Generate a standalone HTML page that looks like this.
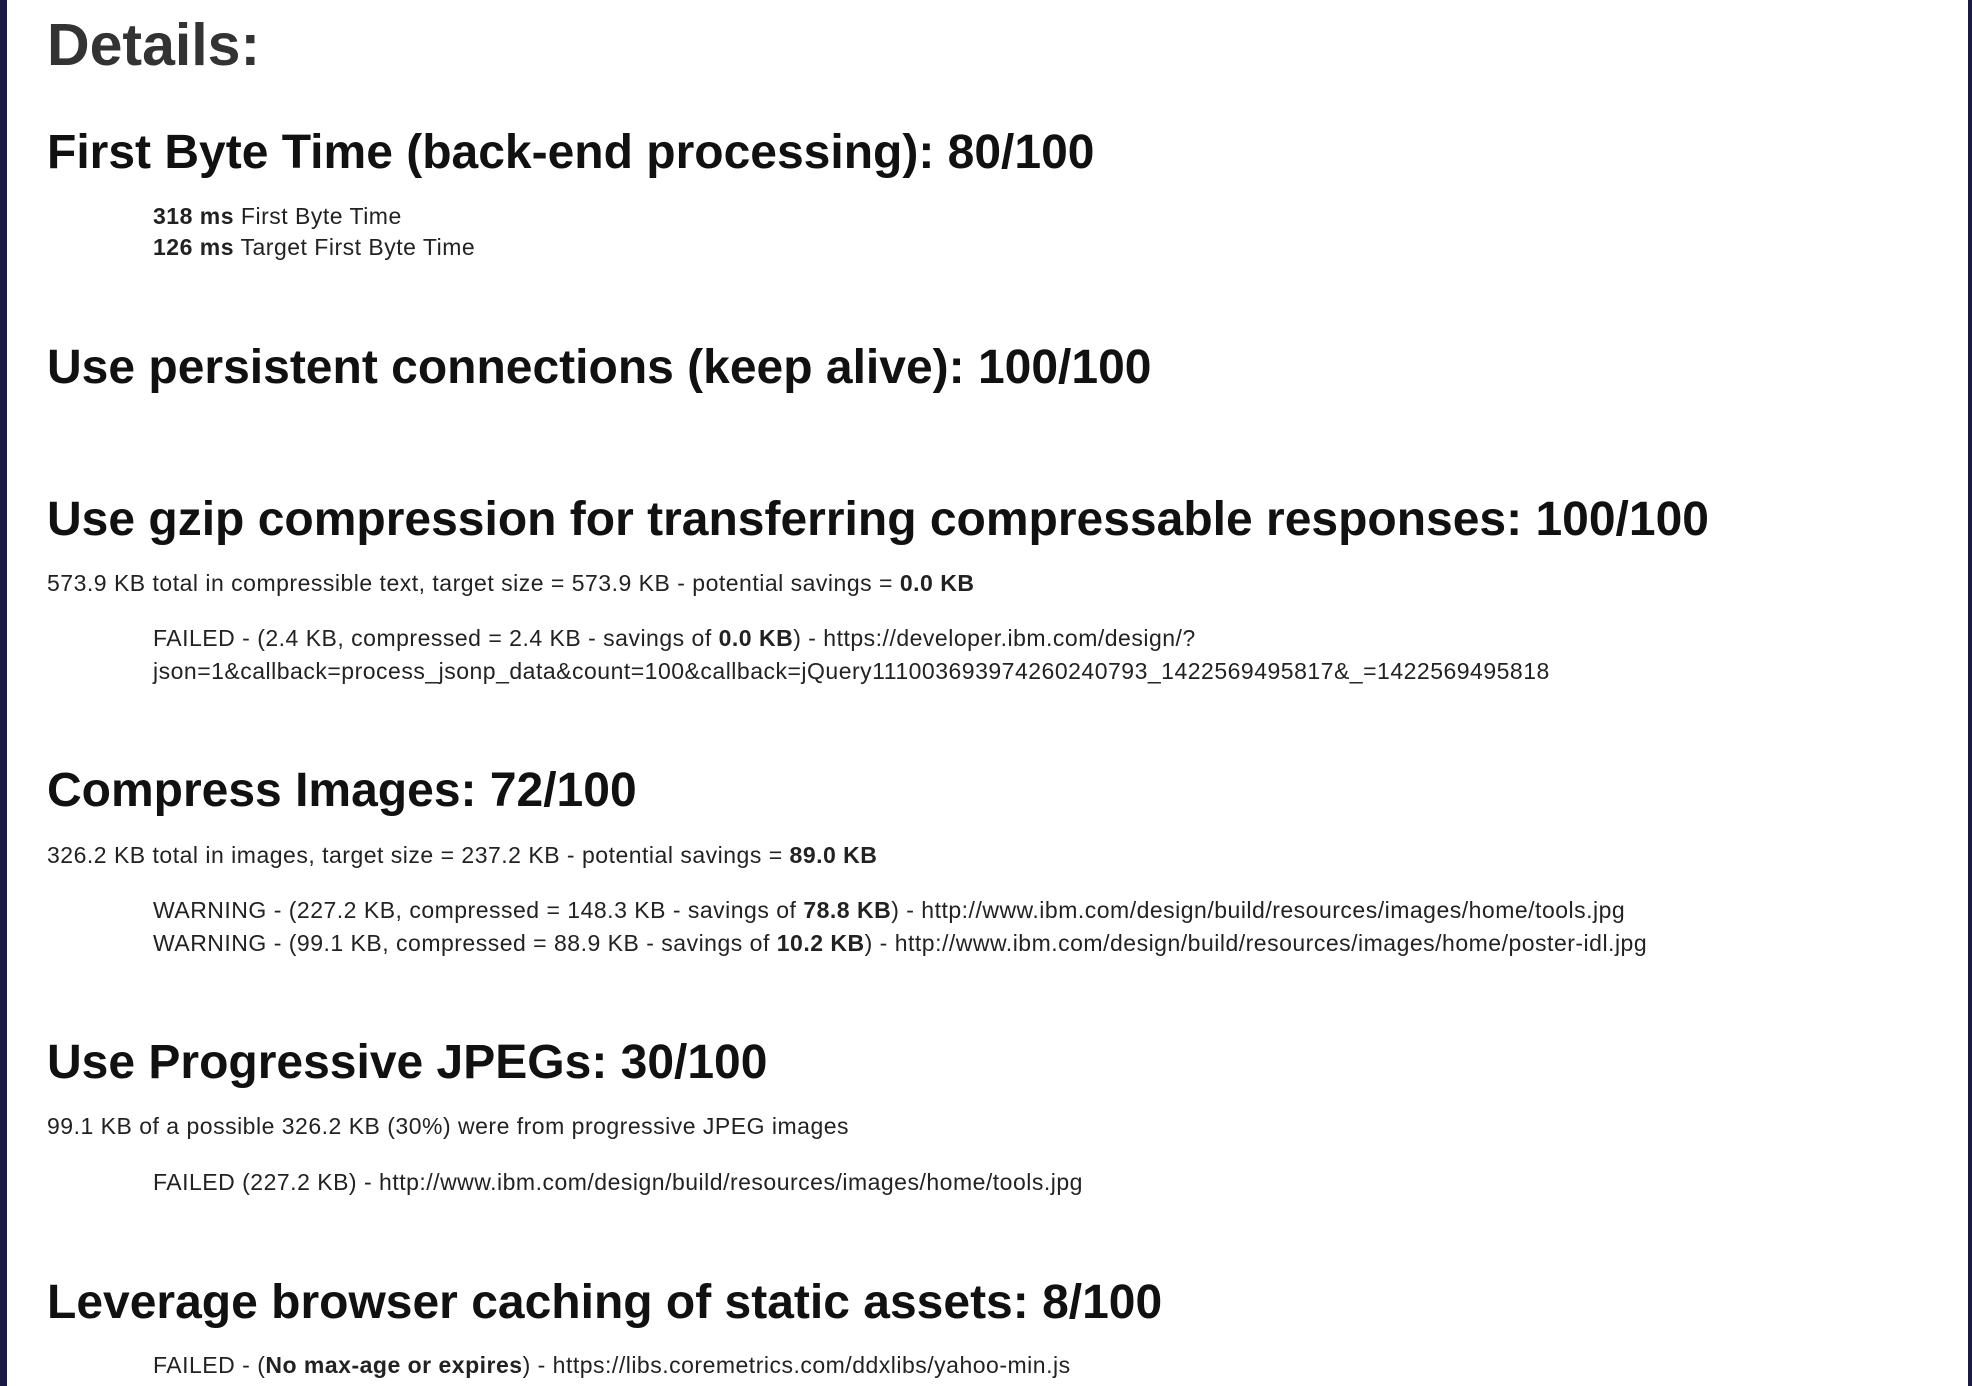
<!DOCTYPE html>
<html><head><meta charset="utf-8"><style>
html,body{margin:0;padding:0;}
body{width:1972px;height:1386px;background:#fff;position:relative;overflow:hidden;font-family:"Liberation Sans",Arial,sans-serif;}
.bl{position:absolute;left:0;top:0;width:7px;height:1386px;background:#1b1a45;}
.br{position:absolute;right:0;top:0;width:4px;height:1386px;background:#1b1a45;}
div.t{position:absolute;line-height:1;white-space:nowrap;}
.d{font-size:59px;font-weight:bold;color:#333;left:47px;}
.h{font-size:48px;font-weight:bold;color:#111;left:47px;margin-top:-2px;}
.s{font-size:23px;color:#222;letter-spacing:0.5px;margin-top:-2px;}
.p{left:47px;}
.i{left:153px;}
</style></head><body>
<div class="bl"></div><div class="br"></div>
<div class="t d" style="top:16px">Details:</div>
<div class="t h" style="top:131px">First Byte Time (back-end processing): 80/100</div>
<div class="t s i" style="top:207px"><b>318 ms</b> First Byte Time</div>
<div class="t s i" style="top:238px"><b>126 ms</b> Target First Byte Time</div>
<div class="t h" style="top:346px">Use persistent connections (keep alive): 100/100</div>
<div class="t h" style="top:498px">Use gzip compression for transferring compressable responses: 100/100</div>
<div class="t s p" style="top:574px">573.9 KB total in compressible text, target size = 573.9 KB - potential savings = <b>0.0 KB</b></div>
<div class="t s i" style="top:629px">FAILED - (2.4 KB, compressed = 2.4 KB - savings of <b>0.0 KB</b>) - https://developer.ibm.com/design/?</div>
<div class="t s i" style="top:662px">json=1&amp;callback=process_jsonp_data&amp;count=100&amp;callback=jQuery111003693974260240793_1422569495817&amp;_=1422569495818</div>
<div class="t h" style="top:769px">Compress Images: 72/100</div>
<div class="t s p" style="top:846px">326.2 KB total in images, target size = 237.2 KB - potential savings = <b>89.0 KB</b></div>
<div class="t s i" style="top:901px">WARNING - (227.2 KB, compressed = 148.3 KB - savings of <b>78.8 KB</b>) - http://www.ibm.com/design/build/resources/images/home/tools.jpg</div>
<div class="t s i" style="top:934px">WARNING - (99.1 KB, compressed = 88.9 KB - savings of <b>10.2 KB</b>) - http://www.ibm.com/design/build/resources/images/home/poster-idl.jpg</div>
<div class="t h" style="top:1041px">Use Progressive JPEGs: 30/100</div>
<div class="t s p" style="top:1117px">99.1 KB of a possible 326.2 KB (30%) were from progressive JPEG images</div>
<div class="t s i" style="top:1173px">FAILED (227.2 KB) - http://www.ibm.com/design/build/resources/images/home/tools.jpg</div>
<div class="t h" style="top:1281px">Leverage browser caching of static assets: 8/100</div>
<div class="t s i" style="top:1356px">FAILED - (<b>No max-age or expires</b>) - https://libs.coremetrics.com/ddxlibs/yahoo-min.js</div>
</body></html>
